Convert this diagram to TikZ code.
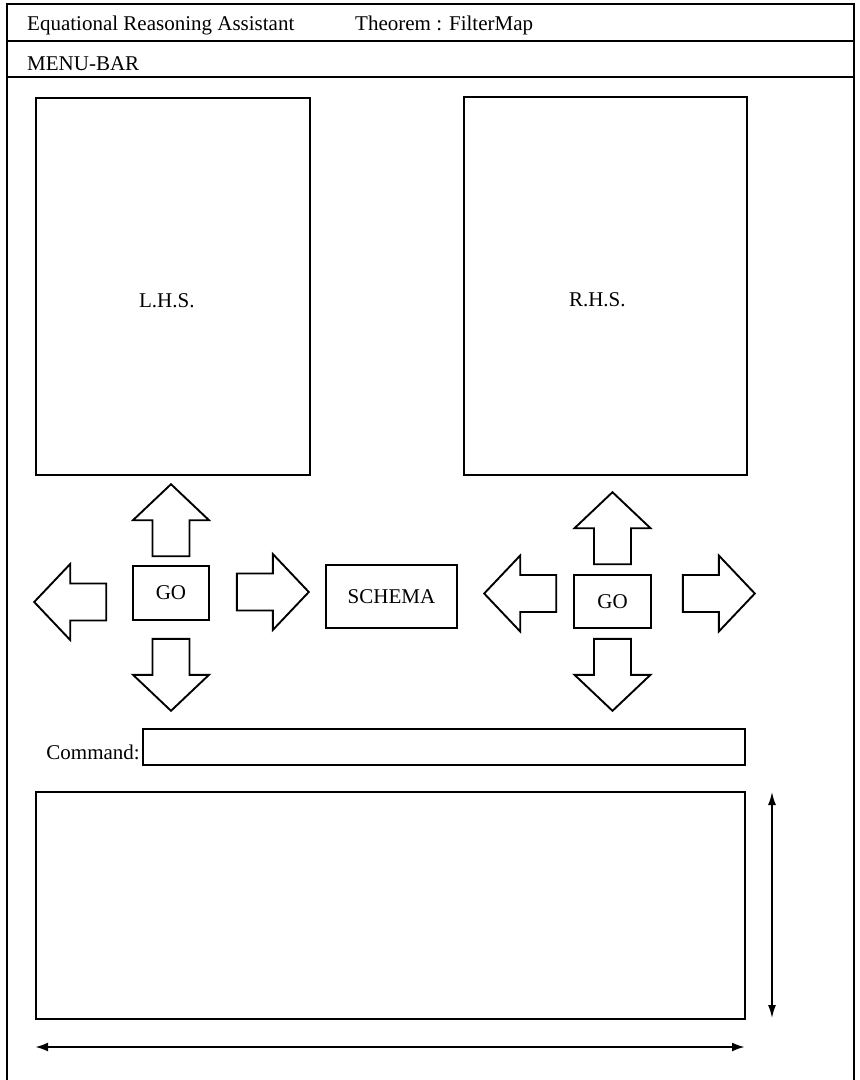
\documentclass[tikz,border=0pt]{standalone}
\usepackage{fontspec}
\setmainfont{Liberation Serif}
\usetikzlibrary{arrows.meta,positioning}
\tikzset{
  panel/.style={draw,line width=1.7pt,inner sep=0pt},
  gobox/.style={draw,line width=1.6pt,minimum width=76,minimum height=54,inner sep=0pt},
  label/.style={inner sep=0pt},
  bigarrow/.pic={\draw[line width=1.9pt,line join=miter]
    (0,-18.5) -- (36,-18.5) -- (36,-38) -- (72,0) -- (36,38) -- (36,18.5) -- (0,18.5) -- cycle;}
}
\begin{document}
\begin{tikzpicture}[x=1pt,y=-1pt,font=\fontsize{21}{25}\selectfont]
          \useasboundingbox (0,0) rectangle (860,1080);
          % window frame
          \draw[line width=2pt] (7,1080) -- (7,4) -- (854,4) -- (854,1080);
          \draw[line width=1.7pt] (7,41) -- (854,41);
          \draw[line width=1.7pt] (7,77) -- (854,77);
          \node[label,anchor=base west] (title) at (27,30) {Equational Reasoning Assistant};
          \node[label,anchor=base west] (theorem) at (355,30) {Theorem : FilterMap};
          \node[label,anchor=base west] (menu) at (27,70) {MENU-BAR};
          % the two sides
          \node[panel,anchor=north west,minimum width=274,minimum height=377] (lhs) at (35,97) {};
          \node[panel,anchor=north west,minimum width=283,minimum height=378] (rhs) at (463,96) {};
          \node[label] (lhslabel) at ([xshift=-6,yshift=-14]lhs.center) {L.H.S.};
          \node[label] (rhslabel) at ([xshift=-8,yshift=-14]rhs.center) {R.H.S.};
          % go buttons
          \node[gobox] (golhs) at (171,593) {GO};
          \node[gobox,minimum width=77,minimum height=53] (gorhs) at (612.5,601.5) {GO};
          \node[panel,minimum width=131,minimum height=63] (schema) at (391.5,596.5) {SCHEMA};
          % arrows round the left go
          \pic[rotate=90] at ([yshift=9]golhs.north) {bigarrow};
          \pic[rotate=-90] at ([yshift=-18]golhs.south) {bigarrow};
          \pic[rotate=180] at ([xshift=-26,yshift=-9]golhs.west) {bigarrow};
          \pic at ([xshift=27,yshift=1]golhs.east) {bigarrow};
          % arrows round the right go
          \pic[rotate=90] at ([yshift=10]gorhs.north) {bigarrow};
          \pic[rotate=-90] at ([yshift=-10]gorhs.south) {bigarrow};
          \pic[rotate=180] at ([xshift=-17,yshift=8]gorhs.west) {bigarrow};
          \pic at ([xshift=31,yshift=8]gorhs.east) {bigarrow};
          % command line
          \node[panel,anchor=north west,minimum width=602,minimum height=36] (cmd) at (142,728) {};
          \node[label,anchor=base east] (cmdlabel) at (140,759) {Command:};
          % output area
          \node[panel,anchor=north west,minimum width=709,minimum height=227] (out) at (35,791) {};
          \coordinate (vtop) at (772,792);
          \coordinate (vbot) at (772,1018);
          \coordinate (hleft) at (35,1047);
          \coordinate (hright) at (745,1047);
          \draw[line width=1.6pt,{Latex[length=13pt,width=8pt]}-{Latex[length=13pt,width=8pt]}] (vtop) -- (vbot);
          \draw[line width=2.4pt,{Latex[length=13pt,width=9pt]}-{Latex[length=13pt,width=9pt]}] (hleft) -- (hright);
        \end{tikzpicture}
\end{document}
